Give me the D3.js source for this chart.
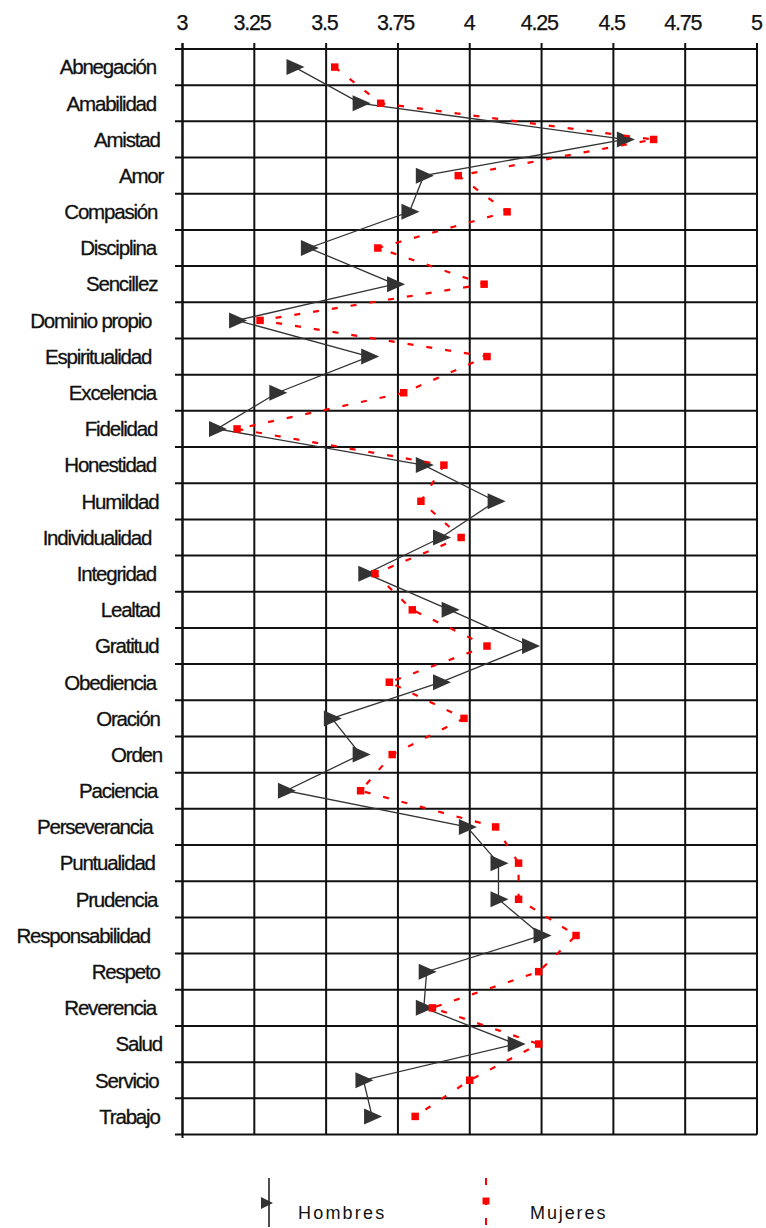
<!DOCTYPE html>
<html><head><meta charset="utf-8">
<script src="https://cdn.jsdelivr.net/npm/d3@7/dist/d3.min.js"></script>
<style>html,body{margin:0;padding:0;background:#fff;}svg{display:block;}</style>
</head><body>
<svg id="c" width="766" height="1228"></svg>
<script>
const categories = ["Abnegación","Amabilidad","Amistad","Amor","Compasión","Disciplina","Sencillez","Dominio propio","Espiritualidad","Excelencia","Fidelidad","Honestidad","Humildad","Individualidad","Integridad","Lealtad","Gratitud","Obediencia","Oración","Orden","Paciencia","Perseverancia","Puntualidad","Prudencia","Responsabilidad","Respeto","Reverencia","Salud","Servicio","Trabajo"];
const hombres = [3.39,3.62,4.54,3.84,3.79,3.44,3.74,3.19,3.65,3.33,3.12,3.84,4.09,3.90,3.64,3.93,4.21,3.90,3.52,3.62,3.36,3.99,4.10,4.10,4.25,3.85,3.84,4.16,3.63,3.66];
const mujeres = [3.53,3.69,4.64,3.96,4.13,3.68,4.05,3.27,4.06,3.77,3.19,3.91,3.83,3.97,3.67,3.80,4.06,3.72,3.98,3.73,3.62,4.09,4.17,4.17,4.37,4.24,3.87,4.24,4.00,3.81];
const tickValues = [3,3.25,3.5,3.75,4,4.25,4.5,4.75,5];
const tickLabels = ["3","3.25","3.5","3.75","4","4.25","4.5","4.75","5"];
const seriesNames = ["Hombres","Mujeres"];

const svg = d3.select("#c");
const x = d3.scaleLinear().domain([3,5]).range([182.5,757]);
const y = d3.scaleBand().domain(categories).range([49,1134.5]);
const yc = d => y(d) + y.bandwidth()/2;
const FONT = "'Liberation Sans', Arial, sans-serif";

// grid
const g = svg.append("g").attr("stroke","#111").attr("stroke-width",2);
const bounds = categories.map(c => y(c)).concat([y.range()[1]]);
g.selectAll("line.h").data(bounds).join("line")
  .attr("x1",175).attr("x2",x(5)).attr("y1",d=>d).attr("y2",d=>d);
g.selectAll("line.v").data(tickValues).join("line")
  .attr("x1",d=>x(d)).attr("x2",d=>x(d)).attr("y1",43).attr("y2",y.range()[1]);
g.append("line").attr("x1",x(3)).attr("x2",x(3)).attr("y1",43).attr("y2",1138);

function condensed(sel, anchor, ls){
  sel.each(function(){
    const t = d3.select(this);
    const w = this.getComputedTextLength();
    const x0 = +t.attr("x");
    const nx = anchor==="end" ? x0 - w : anchor==="middle" ? x0 - w/2 : x0;
    t.attr("x", nx).attr("letter-spacing", ls);
  });
}

// tick labels
svg.append("g").selectAll("text").data(tickValues).join("text")
  .attr("x",d=>x(d)).attr("y",30)
  .attr("font-family",FONT).attr("font-size",21.5).attr("fill","#111")
  .attr("stroke","#111").attr("stroke-width",0.25)
  .text((d,i)=>tickLabels[i])
  .call(condensed,"middle",-1.2);

// category labels
svg.append("g").selectAll("text").data(categories).join("text")
  .attr("x",168).attr("y",d=>yc(d)+7.3)
  .attr("font-family",FONT).attr("font-size",20.5).attr("fill","#111")
  .attr("stroke","#111").attr("stroke-width",0.3)
  .text(d=>d)
  .call(condensed,"end",-1.2);

const lineGen = d3.line().x(d=>x(d.v)).y(d=>yc(d.c));
const hData = categories.map((c,i)=>({c, v:hombres[i]}));
const mData = categories.map((c,i)=>({c, v:mujeres[i]}));

// Hombres
svg.append("path").datum(hData).attr("d",lineGen)
  .attr("fill","none").attr("stroke","#333").attr("stroke-width",1.3);
const tri = "M-8,-8L10,0L-8,8Z";
svg.append("g").selectAll("path").data(hData).join("path")
  .attr("d",tri).attr("fill","#333")
  .attr("transform",d=>`translate(${x(d.v)},${yc(d.c)})`);

// Mujeres
svg.append("path").datum(mData).attr("d",lineGen)
  .attr("fill","none").attr("stroke","#ff0000").attr("stroke-width",2.2)
  .attr("stroke-dasharray","6,13");
svg.append("g").selectAll("path").data(mData).join("path")
  .attr("d",d3.symbol().type(d3.symbolSquare).size(56)).attr("fill","#ff0000")
  .attr("transform",d=>`translate(${x(d.v)},${yc(d.c)})`);

// legend
const lg = svg.append("g");
lg.append("line").attr("x1",269).attr("x2",269).attr("y1",1178).attr("y2",1227)
  .attr("stroke","#222").attr("stroke-width",1.6);
lg.append("path").attr("d","M-6,-6L6,0L-6,6Z").attr("fill","#333")
  .attr("transform","translate(267,1203)");
lg.append("text").attr("x",298).attr("y",1219).attr("font-family",FONT)
  .attr("font-size",18).attr("letter-spacing",2.2).attr("fill","#111").text(seriesNames[0]);
lg.append("line").attr("x1",486).attr("x2",486).attr("y1",1178).attr("y2",1226)
  .attr("stroke","#ff0000").attr("stroke-width",2).attr("stroke-dasharray","7,13");
lg.append("path").attr("d",d3.symbol().type(d3.symbolSquare).size(48)).attr("fill","#ff0000")
  .attr("transform","translate(486,1201)");
lg.append("text").attr("x",530).attr("y",1219).attr("font-family",FONT)
  .attr("font-size",18).attr("letter-spacing",1.9).attr("fill","#111").text(seriesNames[1]);
</script>
</body></html>
